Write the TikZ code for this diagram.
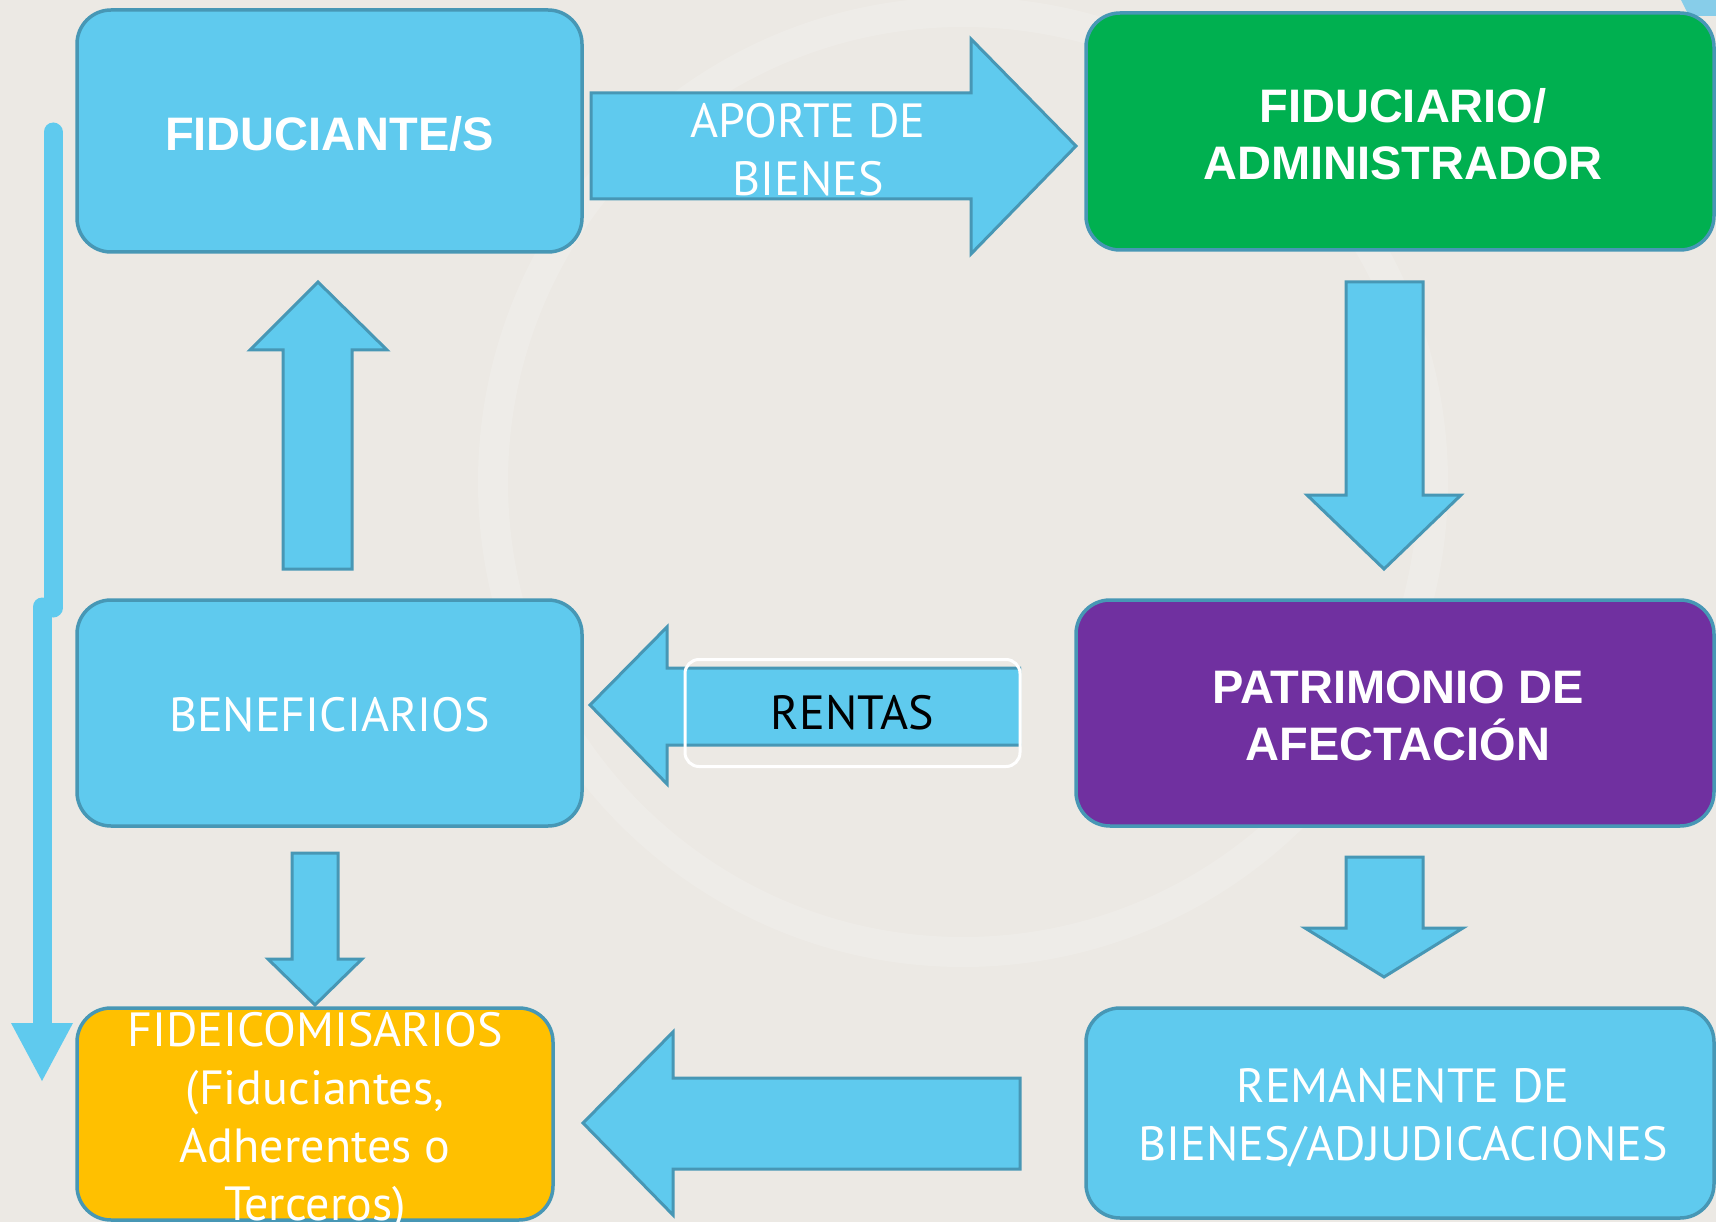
\documentclass[tikz,border=0pt]{standalone}
\usepackage{fontspec}
\usetikzlibrary{calc}
\setmainfont{Liberation Sans}
\newfontfamily\ptsans{PT Sans}
\definecolor{bgc}{HTML}{ECE9E4}
\definecolor{bluec}{HTML}{5FCAEE}
\definecolor{strokec}{HTML}{4797B5}
\definecolor{greenc}{HTML}{00B050}
\definecolor{purplec}{HTML}{7030A0}
\definecolor{yellowc}{HTML}{FFC000}
\definecolor{decoc}{HTML}{87CDE9}
\begin{document}
\begin{tikzpicture}[x=1pt,y=-1pt,
  box/.style={draw=strokec, line width=3.5pt, rounded corners=34pt, inner sep=0pt},
  lbl/.style={align=center, text=white, inner sep=0pt},
  boldtxt/.style={font=\fontsize{47}{57}\selectfont\bfseries},
  thintxt/.style={font=\ptsans\fontsize{48}{58}\selectfont},
  barrow/.style={fill=bluec, draw=strokec, line width=3pt, line join=miter},
  sidebar/.style={draw=bluec, line width=19pt}]
\useasboundingbox (0,0) rectangle (1716,1222);
\clip (0,0) rectangle (1716,1222);
\fill[bgc] (0,0) rectangle (1716,1222);
% faint watermark ring
\draw[white, opacity=0.15, line width=30pt] (963,482) circle (470);
% top-right decoration
\fill[decoc] (1681,0) -- (1716,0) -- (1716,16) -- (1689,16) -- cycle;

% boxes
\node[box, fill=bluec, minimum width=505pt, minimum height=242pt] (fidu) at (329.5,131) {};
\node[box, fill=greenc, minimum width=628pt, minimum height=237pt] (fiduc) at (1400,131.5) {};
\node[box, fill=bluec, minimum width=505pt, minimum height=226pt] (bene) at (329.5,713) {};
\node[box, fill=purplec, minimum width=638pt, minimum height=226pt] (patr) at (1395,713) {};
\node[box, fill=yellowc, minimum width=476pt, minimum height=212pt] (fide) at (315,1114) {};
\node[box, fill=bluec, minimum width=628pt, minimum height=210pt] (rema) at (1400,1113) {};

% box texts
\node[lbl, boldtxt] (fidu-t) at ([yshift=-2.5pt]fidu.center) {FIDUCIANTE/S};
\node[lbl, boldtxt] (fiduc-t) at ([xshift=3pt,yshift=-2.5pt]fiduc.center) {FIDUCIARIO/\\ADMINISTRADOR};
\node[lbl, thintxt] (bene-t) at ([yshift=-2pt]bene.center) {BENEFICIARIOS};
\node[lbl, boldtxt] (patr-t) at ([xshift=3pt,yshift=-3pt]patr.center) {PATRIMONIO DE\\AFECTACI\'ON};
\node[lbl, thintxt] (fide-t) at ([yshift=-8pt]fide.center) {FIDEICOMISARIOS\\(Fiduciantes,\\Adherentes o\\Terceros)};
\node[lbl, thintxt] (rema-t) at ([xshift=3pt,yshift=-5pt]rema.center) {REMANENTE DE\\BIENES/ADJUDICACIONES};

% side bar with jog and arrowhead
\coordinate (sbtop) at (53,132);
\coordinate (sbjog) at (53,608);
\coordinate (sbjog2) at (42,607);
\coordinate (sbend) at (42,1024);
\draw[sidebar, line cap=round] (sbtop) -- (sbjog);
\draw[sidebar, line cap=round] (sbjog2) -- ($(sbend)+(0,-10)$);
\draw[sidebar] ($(sbend)+(0,-12)$) -- (sbend);
\fill[bluec] (11,1023) -- (73,1023) -- (42,1081) -- cycle;

% block arrows
% aporte de bienes: fidu -> fiduc
\draw[barrow] (591,93) -- (971,93) -- (971,39) -- (1076,146) -- (971,254) -- (971,199) -- (591,199) -- cycle;
\node[lbl, thintxt] (aporte) at (808,150) {APORTE DE\\BIENES};
% bene -> fidu
\draw[barrow] (283,569) -- (283,350) -- (250,350) -- (318,282) -- (387,350) -- (352,350) -- (352,569) -- cycle;
% fiduc -> patr
\draw[barrow] (1346,282) -- (1423,282) -- (1423,495) -- (1461,495) -- (1384,569) -- (1307,495) -- (1346,495) -- cycle;
% patr -> rema
\draw[barrow] (1346,857) -- (1423,857) -- (1423,928) -- (1463,928) -- (1384,977) -- (1305,928) -- (1346,928) -- cycle;
% bene -> fide
\draw[barrow] (292,853) -- (338,853) -- (338,959) -- (362,959) -- (315,1005) -- (268,959) -- (292,959) -- cycle;
% rentas: patr -> bene
\draw[barrow] (1021,668) -- (667,668) -- (667,627) -- (590,705) -- (667,784) -- (667,745) -- (1021,745);
\node[draw=white, line width=3pt, rounded corners=14pt, minimum width=335pt, minimum height=107pt, thintxt, text=black, inner sep=0pt] (rentas) at (852.5,713) {RENTAS};
% rema -> fide
\draw[barrow] (1020,1078) -- (673,1078) -- (673,1032) -- (583,1123) -- (673,1215) -- (673,1169) -- (1020,1169) -- cycle;
\end{tikzpicture}
\end{document}
